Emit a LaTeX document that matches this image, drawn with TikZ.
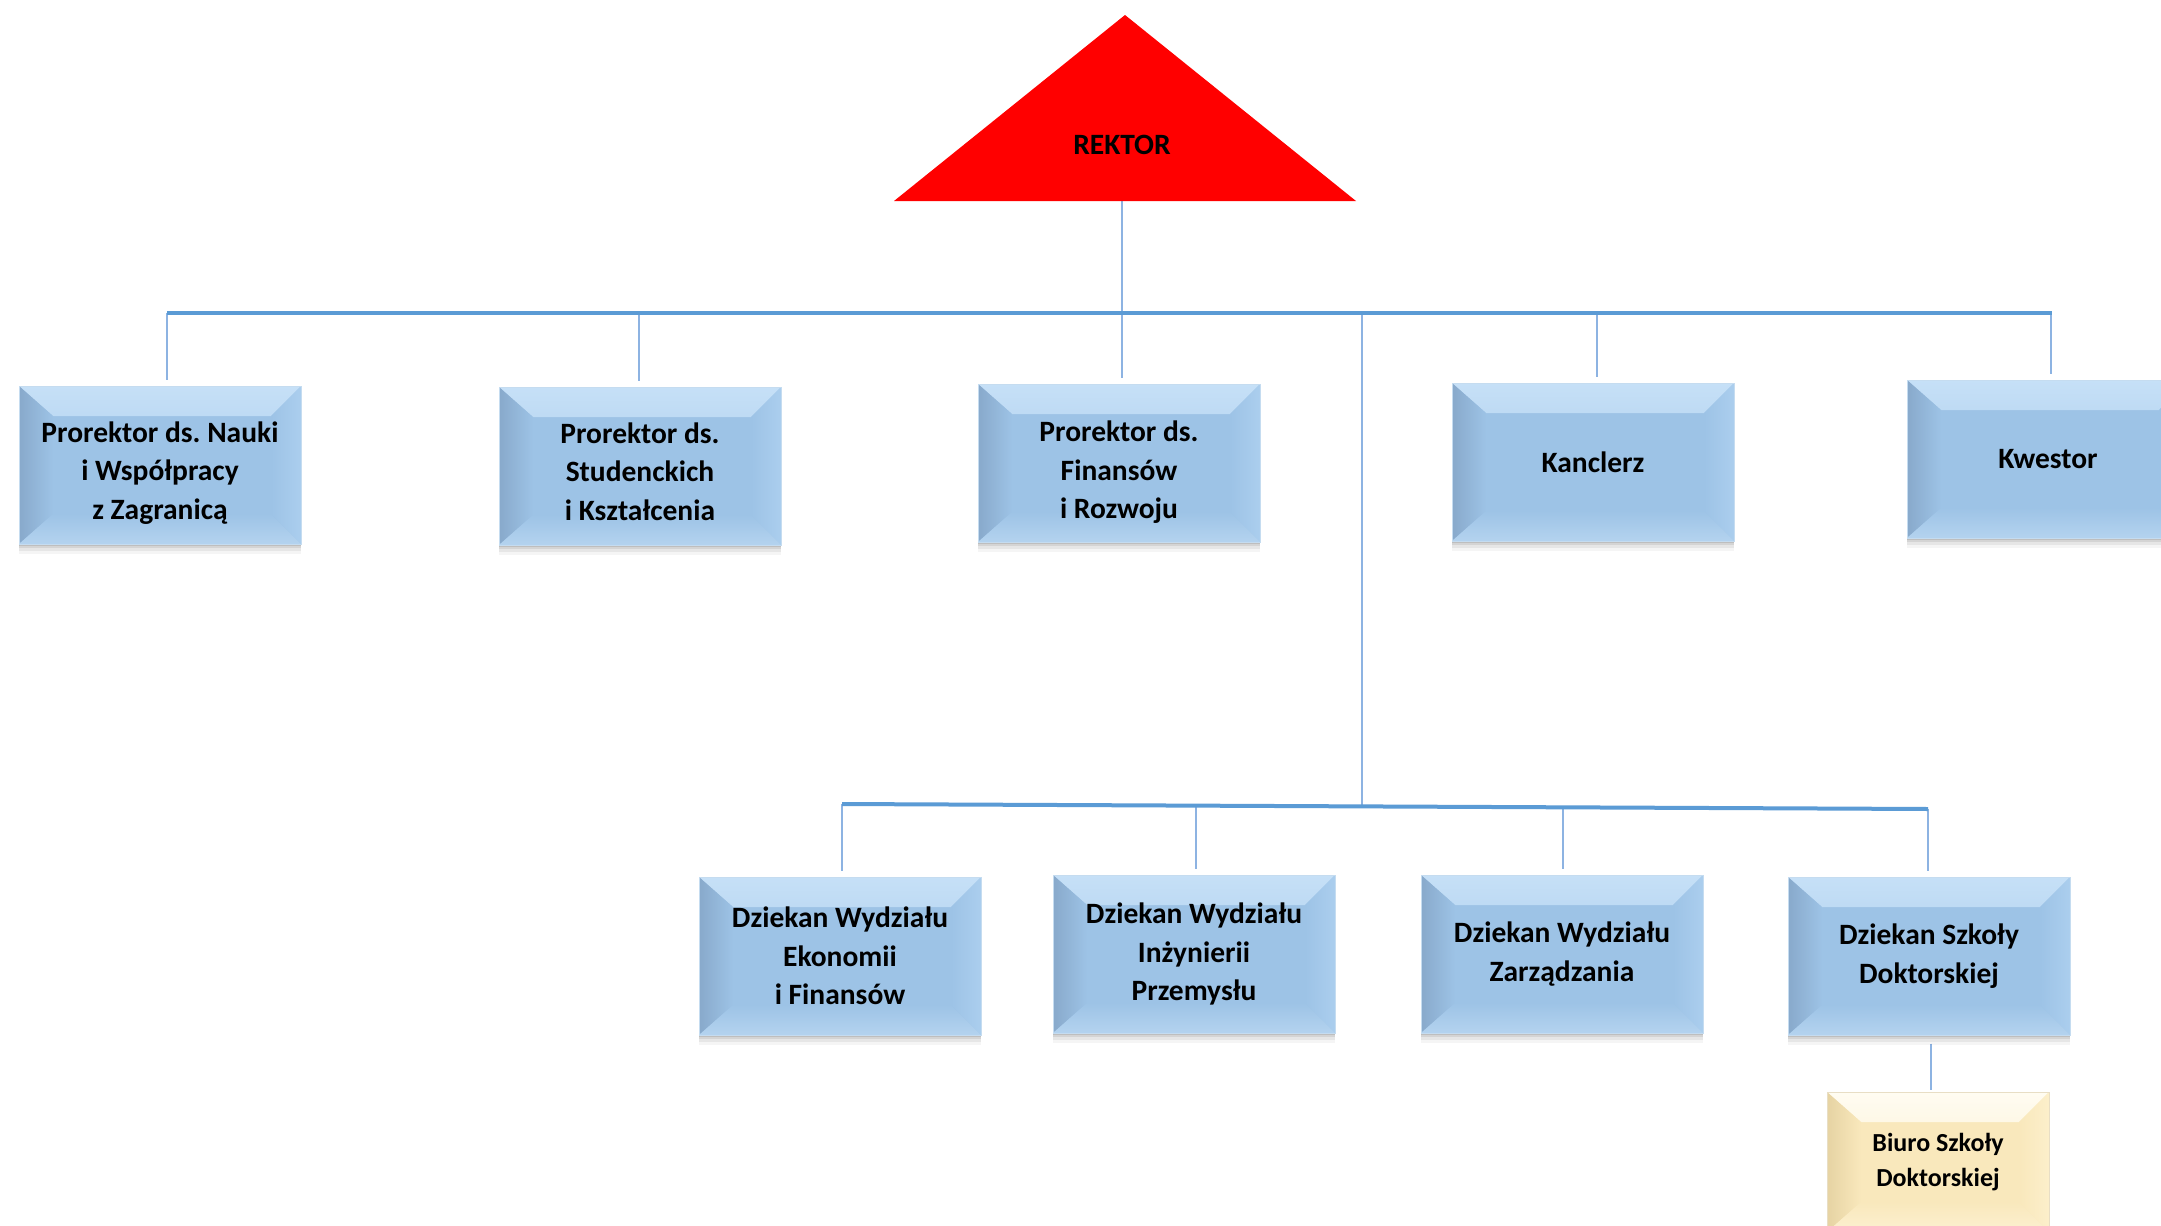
\documentclass[tikz,border=0pt]{standalone}
\usepackage{fontspec}
\setmainfont{Carlito}
\usetikzlibrary{shadows}
\frenchspacing
\pgfdeclarelayer{bg}
\pgfsetlayers{bg,main}
\definecolor{busblue}{HTML}{5B9BD5}
\definecolor{dropblue}{HTML}{8DB3E2}
\definecolor{bMain}{HTML}{9DC3E6}
\definecolor{bTop}{HTML}{C6E0F7}
\definecolor{bLeft}{HTML}{88A9CB}
\definecolor{bRight}{HTML}{ABCEEE}
\definecolor{bBot}{HTML}{B4D3EF}
\definecolor{bEdge}{HTML}{C5DCF0}
\definecolor{yMain}{HTML}{F9E8BC}
\definecolor{yTop}{HTML}{FFFCF2}
\definecolor{yLeft}{HTML}{E6D3A3}
\definecolor{yRight}{HTML}{FCEFCB}
\definecolor{yBot}{HTML}{FCF0D0}
\definecolor{yEdge}{HTML}{E8DEC5}
\definecolor{rektorred}{HTML}{FF0000}
\newcommand{\tdrop}[1]{\rule{0pt}{#1}}
\tikzset{
  bevel/.style n args={6}{rectangle, inner sep=0pt, align=center, fill=#1, draw=#6, line width=1pt,
    drop shadow={shadow xshift=0pt, shadow yshift=-2pt, opacity=0.10, fill=black},
    drop shadow={shadow xshift=0pt, shadow yshift=-4pt, opacity=0.08, fill=black},
    drop shadow={shadow xshift=0pt, shadow yshift=-7pt, opacity=0.06, fill=black},
    drop shadow={shadow xshift=0pt, shadow yshift=-10pt, opacity=0.04, fill=black},
    path picture={
      \shade[top color=#2, bottom color=#1]
        (path picture bounding box.north west) -- (path picture bounding box.north east)
        -- ([xshift=-30pt,yshift=-30pt]path picture bounding box.north east)
        -- ([xshift=34pt,yshift=-30pt]path picture bounding box.north west) -- cycle;
      \shade[left color=#3, right color=#1]
        (path picture bounding box.north west) -- ([xshift=34pt,yshift=-30pt]path picture bounding box.north west)
        -- ([xshift=34pt,yshift=30pt]path picture bounding box.south west)
        -- (path picture bounding box.south west) -- cycle;
      \shade[left color=#1, right color=#4]
        (path picture bounding box.north east) -- (path picture bounding box.south east)
        -- ([xshift=-30pt,yshift=30pt]path picture bounding box.south east)
        -- ([xshift=-30pt,yshift=-30pt]path picture bounding box.north east) -- cycle;
      \shade[top color=#1, bottom color=#5]
        (path picture bounding box.south west) -- ([xshift=34pt,yshift=30pt]path picture bounding box.south west)
        -- ([xshift=-30pt,yshift=30pt]path picture bounding box.south east)
        -- (path picture bounding box.south east) -- cycle;
    }},
  orgbox/.style={bevel={bMain}{bTop}{bLeft}{bRight}{bBot}{bEdge}, minimum width=282pt, minimum height=158pt,
    font=\bfseries\fontsize{29.5}{38.5}\selectfont},
  officebox/.style={bevel={yMain}{yTop}{yLeft}{yRight}{yBot}{yEdge}, minimum width=222pt, minimum height=140pt,
    font=\bfseries\fontsize{26}{34.5}\selectfont},
  bus/.style={draw=busblue, line width=4pt},
  link/.style={draw=dropblue, line width=1.6pt},
}
\begin{document}
\begin{tikzpicture}[x=1pt,y=-1pt]
\clip (0,0) rectangle (2161,1226);
% REKTOR triangle
\fill[rektorred] (1125,15) -- (1356,201) -- (894,201) -- cycle;
\node[font=\bfseries\fontsize{29.5}{36}\selectfont] (rektor) at (1122,145) {REKTOR};
\coordinate (rektorbase) at (1122,201);
% boxes, top row
\node[orgbox] (b1) at (160,465) {\tdrop{36pt}Prorektor ds. Nauki\\i Współpracy\\z Zagranicą};
\node[orgbox] (b2) at (640,466) {\tdrop{32pt}Prorektor ds.\\Studenckich\\i Kształcenia};
\node[orgbox] (b3) at (1119,463) {\tdrop{39pt}Prorektor ds.\\Finansów\\i Rozwoju};
\node[orgbox] (b4) at (1593,462) {Kanclerz};
\node[orgbox] (b5) at (2048,459) {Kwestor};
% lower row
\node[orgbox] (b6) at (840,956) {Dziekan Wydziału\\Ekonomii\\i Finansów};
\node[orgbox] (b7) at (1194,954) {Dziekan Wydziału\\Inżynierii\\Przemysłu};
\node[orgbox] (b8) at (1562,954) {Dziekan Wydziału\\Zarządzania};
\node[orgbox] (b9) at (1929,956) {Dziekan Szkoły\\Doktorskiej};
\node[officebox] (b10) at (1938,1162) {Biuro Szkoły\\Doktorskiej};
% connectors
\coordinate (busL) at (167,313);
\coordinate (busR) at (2052,313);
\coordinate (busM) at (1362,313);
\coordinate (lbL) at (842,804);
\coordinate (lbR) at (1928,809);
\coordinate (lbM) at (1362,806);
\coordinate (d1) at (167,313);
\coordinate (d2) at (639,313);
\coordinate (d3) at (1122,313);
\coordinate (d4) at (1597,313);
\coordinate (d5) at (2051,313);
\coordinate (e6) at (842,804);
\coordinate (e7) at (1196,805);
\coordinate (e8) at (1563,807);
\coordinate (e9) at (1928,809);
\coordinate (f9) at (1931,0);
\begin{pgfonlayer}{bg}
\fill[white] (0,0) rectangle (2161,1226);
\draw[link] (rektorbase) -- (d3);
\draw[link, shorten >=6pt] (d1) -- (d1 |- b1.north);
\draw[link, shorten >=6pt] (d2) -- (d2 |- b2.north);
\draw[link, shorten >=6pt] (d3) -- (d3 |- b3.north);
\draw[link, shorten >=6pt] (d4) -- (d4 |- b4.north);
\draw[link, shorten >=6pt] (d5) -- (d5 |- b5.north);
\draw[link] (busM) -- (lbM);
\draw[link, shorten >=6pt] (e6) -- (e6 |- b6.north);
\draw[link, shorten >=6pt] (e7) -- (e7 |- b7.north);
\draw[link, shorten >=6pt] (e8) -- (e8 |- b8.north);
\draw[link, shorten >=6pt] (e9) -- (e9 |- b9.north);
\draw[link, shorten <=8pt, shorten >=2pt] (f9 |- b9.south) -- (f9 |- b10.north);
\draw[bus] (busL) -- (busR);
\draw[bus] (lbL) -- (lbR);
\end{pgfonlayer}
\end{tikzpicture}
\end{document}
